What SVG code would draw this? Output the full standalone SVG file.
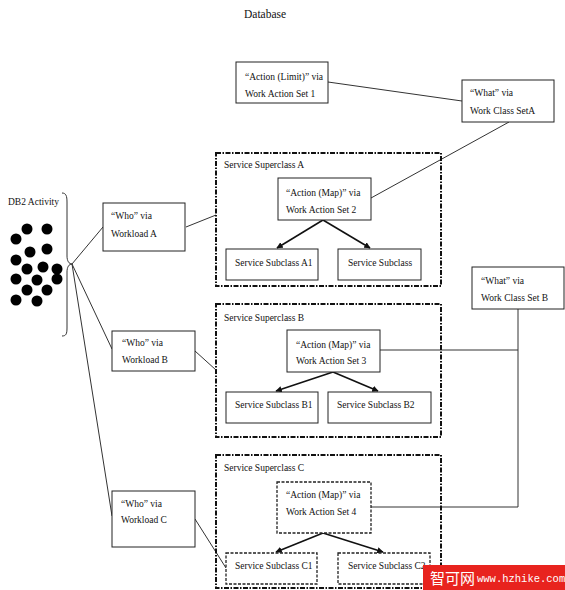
<svg xmlns="http://www.w3.org/2000/svg" width="565" height="590" viewBox="0 0 565 590">
<style>
text{font-family:"Liberation Serif","Times New Roman",serif;font-size:9.5px;fill:#111}
.box{fill:#fff;stroke:#222;stroke-width:1}
.dbox{fill:#fff;stroke:#222;stroke-width:1.3;stroke-dasharray:3 1.5}
.sup{fill:none;stroke:#111;stroke-width:2;stroke-dasharray:5 1.5 1.5 1.5}
.ln{fill:none;stroke:#333;stroke-width:1}
.arr{fill:none;stroke:#111;stroke-width:1.6;marker-end:url(#ah)}
.dot{fill:#000}
</style>
<defs>
<marker id="ah" viewBox="0 0 10 10" refX="9" refY="5" markerWidth="4" markerHeight="4" orient="auto" markerUnits="strokeWidth">
<path d="M0,0 L10,5 L0,10 z" fill="#111"/>
</marker>
</defs>
<rect width="565" height="590" fill="#fff"/>
<text x="244" y="18" style="font-size:11.5px">Database</text>

<g id="connectors">
<line class="ln" x1="328" y1="82" x2="462" y2="101"/>
<line class="ln" x1="509" y1="122" x2="371" y2="198"/>
<line class="ln" x1="72" y1="264" x2="103" y2="227"/>
<line class="ln" x1="72" y1="264" x2="112" y2="349"/>
<line class="ln" x1="72" y1="264" x2="112" y2="516"/>
<line class="ln" x1="186" y1="227" x2="216" y2="215"/>
<line class="ln" x1="195" y1="351" x2="216" y2="370"/>
<line class="ln" x1="195" y1="519" x2="226" y2="568"/>
<polyline class="ln" points="380,350 518,350"/>
<polyline class="ln" points="518,309 518,507 371,507"/>
<line class="arr" x1="323" y1="220" x2="277" y2="248"/>
<line class="arr" x1="323" y1="220" x2="370" y2="248"/>
<line class="arr" x1="333" y1="372" x2="276" y2="391"/>
<line class="arr" x1="333" y1="372" x2="378" y2="391"/>
<line class="arr" x1="323" y1="533" x2="276" y2="552"/>
<line class="arr" x1="323" y1="533" x2="383" y2="552"/>
</g>

<g id="db2-activity">
<text x="8" y="205">DB2 Activity</text>
<path class="ln" d="M62,193 C66,193 67,196 67,202 L67,256 C67,261 69,264 72,264 C69,264 67,267 67,272 L67,328 C67,334 66,336 62,336"/>
<circle class="dot" cx="27" cy="229" r="5.5"/>
<circle class="dot" cx="47" cy="229" r="5.5"/>
<circle class="dot" cx="16" cy="239" r="5.5"/>
<circle class="dot" cx="30" cy="252" r="5.5"/>
<circle class="dot" cx="47" cy="249" r="5.5"/>
<circle class="dot" cx="16" cy="260" r="5.5"/>
<circle class="dot" cx="27" cy="269" r="5.5"/>
<circle class="dot" cx="43" cy="267" r="5.5"/>
<circle class="dot" cx="57" cy="269" r="5.5"/>
<circle class="dot" cx="16" cy="279" r="5.5"/>
<circle class="dot" cx="37" cy="280" r="5.5"/>
<circle class="dot" cx="57" cy="279" r="5.5"/>
<circle class="dot" cx="27" cy="290" r="5.5"/>
<circle class="dot" cx="47" cy="290" r="5.5"/>
<circle class="dot" cx="16" cy="300" r="5.5"/>
<circle class="dot" cx="37" cy="301" r="5.5"/>
</g>

<g id="action-limit">
<rect class="box" x="236" y="62" width="92" height="41"/>
<text x="245" y="80">“Action (Limit)” via</text>
<text x="245" y="97">Work Action Set 1</text>
</g>

<g id="what-a">
<rect class="box" x="462" y="80" width="92" height="42"/>
<text x="470" y="96">“What” via</text>
<text x="470" y="114">Work Class SetA</text>
</g>

<g id="what-b">
<rect class="box" x="472" y="267" width="92" height="42"/>
<text x="481" y="284">“What” via</text>
<text x="481" y="301">Work Class Set B</text>
</g>

<g id="who-a">
<rect class="box" x="103" y="203" width="82" height="48"/>
<text x="111" y="219">“Who” via</text>
<text x="111" y="237">Workload A</text>
</g>

<g id="who-b">
<rect class="box" x="112" y="331" width="83" height="40"/>
<text x="122" y="346">“Who” via</text>
<text x="122" y="363">Workload B</text>
</g>

<g id="who-c">
<rect class="box" x="112" y="491" width="83" height="56"/>
<text x="121" y="507">“Who” via</text>
<text x="121" y="523">Workload C</text>
</g>

<g id="superclass-a">
<rect class="sup" x="216" y="153" width="225" height="133"/>
<text x="224" y="168">Service Superclass A</text>
<rect class="box" x="278" y="178" width="93" height="42"/>
<text x="286" y="196">“Action (Map)” via</text>
<text x="286" y="213">Work Action Set 2</text>
<rect class="box" x="226" y="249" width="92" height="31"/>
<text x="235" y="266">Service Subclass A1</text>
<rect class="box" x="338" y="249" width="83" height="31"/>
<text x="348" y="266">Service  Subclass</text>
</g>

<g id="superclass-b">
<rect class="sup" x="216" y="304" width="225" height="133"/>
<text x="224" y="321">Service Superclass B</text>
<rect class="box" x="287" y="330" width="93" height="42"/>
<text x="296" y="348">“Action (Map)” via</text>
<text x="296" y="364">Work Action Set 3</text>
<rect class="box" x="226" y="392" width="92" height="31"/>
<text x="235" y="408">Service Subclass B1</text>
<rect class="box" x="328" y="392" width="103" height="31"/>
<text x="337" y="408">Service Subclass B2</text>
</g>

<g id="superclass-c">
<rect class="sup" x="216" y="455" width="225" height="133"/>
<text x="224" y="471">Service Superclass C</text>
<rect class="dbox" x="277" y="482" width="94" height="51"/>
<text x="286" y="498">“Action (Map)” via</text>
<text x="286" y="515">Work Action Set 4</text>
<rect class="dbox" x="226" y="553" width="91" height="31"/>
<text x="235" y="569">Service Subclass C1</text>
<rect class="dbox" x="338" y="553" width="92" height="31"/>
<text x="348" y="569">Service Subclass C2</text>
</g>

<g id="watermark">
<rect x="423" y="565" width="142" height="25" fill="#e8231e"/>
<text x="430" y="584" style="font-family:'Noto Sans CJK SC',sans-serif;font-size:15px;fill:#fff">智可网</text>
<text x="477" y="582" style="font-family:'Liberation Mono',monospace;font-size:10.5px;fill:#fff">www.hzhike.com</text>
</g>
</svg>
